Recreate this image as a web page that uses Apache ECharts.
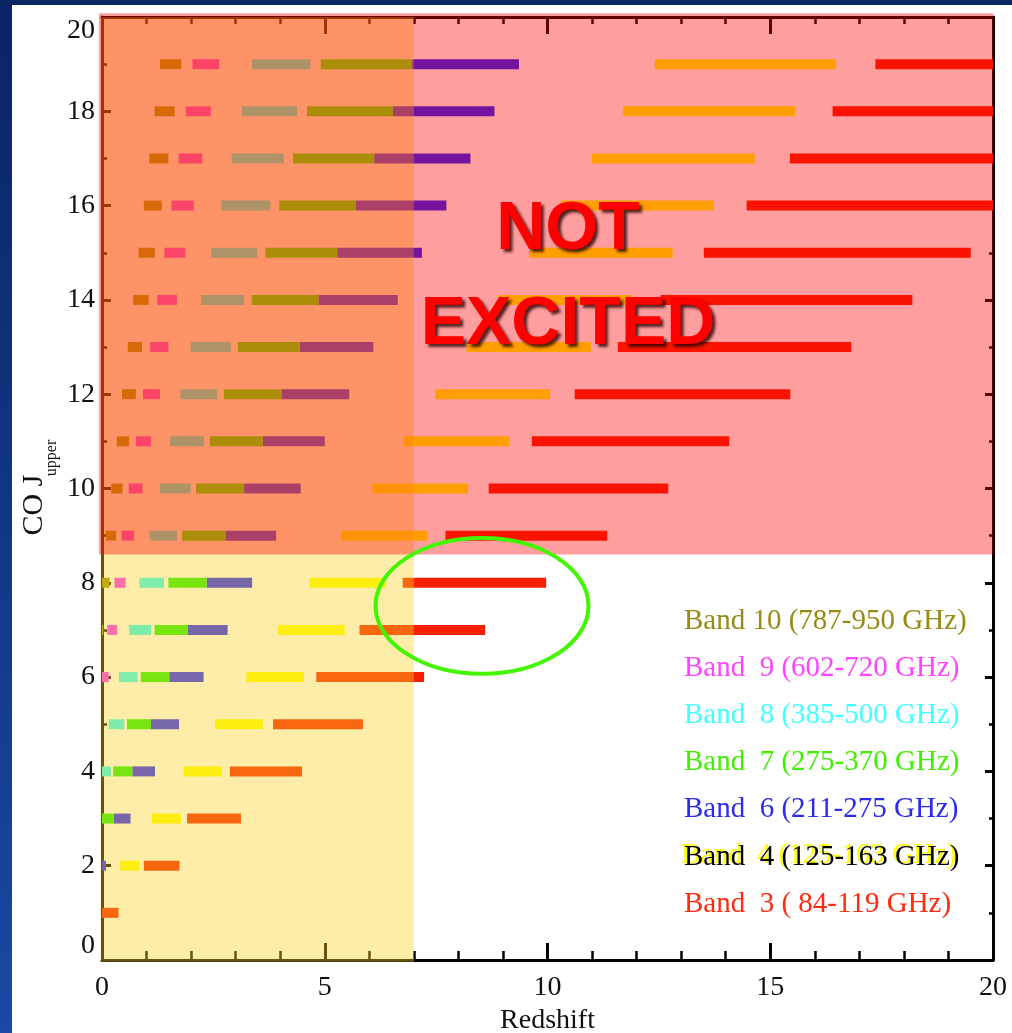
<!DOCTYPE html>
<html>
<head>
<meta charset="utf-8">
<script src="https://cdn.jsdelivr.net/npm/echarts@6/dist/echarts.min.js"></script>
<style>
  html, body { margin: 0; padding: 0; background: #fff; }
  #chart { width: 1012px; height: 1033px; }
</style>
</head>
<body>
<div id="chart"></div>
<script>
// Redshift coverage of the CO rotational ladder for each ALMA band.
// Each entry: [J_upper, z_min, z_max]
const band3  = [[1,0,0.37],[2,0.94,1.74],[3,1.91,3.12],[4,2.87,4.49],[5,3.84,5.86],[6,4.81,7.23],[7,5.78,8.60],[8,6.75,9.97],[9,7.71,11.34],[10,8.68,12.71],[11,9.65,14.08],[12,10.61,15.45],[13,11.58,16.82],[14,12.54,18.19],[15,13.51,19.50],[16,14.47,20],[17,15.44,20],[18,16.40,20],[19,17.36,20]];
const band4  = [[2,0.41,0.84],[3,1.12,1.77],[4,1.83,2.69],[5,2.54,3.61],[6,3.24,4.53],[7,3.95,5.45],[8,4.66,6.37],[9,5.36,7.30],[10,6.07,8.22],[11,6.77,9.14],[12,7.48,10.06],[13,8.18,10.98],[14,8.89,11.89],[15,9.59,12.81],[16,10.30,13.73],[17,11.00,14.65],[18,11.70,15.56],[19,12.41,16.48]];
const band6  = [[2,0,0.09],[3,0.26,0.64],[4,0.68,1.19],[5,1.10,1.73],[6,1.51,2.28],[7,1.93,2.82],[8,2.35,3.37],[9,2.77,3.91],[10,3.19,4.46],[11,3.61,5.00],[12,4.03,5.55],[13,4.44,6.09],[14,4.86,6.64],[15,5.28,7.18],[16,5.70,7.73],[17,6.11,8.27],[18,6.53,8.81],[19,6.95,9.36]];
const band7  = [[3,0,0.26],[4,0.25,0.68],[5,0.56,1.10],[6,0.87,1.51],[7,1.18,1.93],[8,1.49,2.35],[9,1.80,2.77],[10,2.11,3.19],[11,2.42,3.61],[12,2.74,4.03],[13,3.05,4.44],[14,3.36,4.86],[15,3.67,5.28],[16,3.98,5.70],[17,4.29,6.11],[18,4.60,6.53],[19,4.91,6.95]];
const band8  = [[4,0,0.20],[5,0.15,0.50],[6,0.38,0.80],[7,0.61,1.10],[8,0.84,1.39],[9,1.07,1.69],[10,1.30,1.99],[11,1.53,2.29],[12,1.76,2.59],[13,1.99,2.89],[14,2.22,3.19],[15,2.45,3.48],[16,2.68,3.78],[17,2.91,4.08],[18,3.14,4.38],[19,3.37,4.68]];
const band9  = [[6,0,0.15],[7,0.12,0.34],[8,0.28,0.53],[9,0.44,0.72],[10,0.60,0.91],[11,0.76,1.10],[12,0.92,1.30],[13,1.08,1.49],[14,1.24,1.68],[15,1.40,1.87],[16,1.56,2.06],[17,1.72,2.25],[18,1.88,2.44],[19,2.03,2.63]];
const band10 = [[7,0,0.03],[8,0,0.17],[9,0.09,0.32],[10,0.21,0.46],[11,0.33,0.61],[12,0.45,0.76],[13,0.58,0.90],[14,0.70,1.05],[15,0.82,1.19],[16,0.94,1.34],[17,1.06,1.49],[18,1.18,1.63],[19,1.30,1.78]];

// Key labels, top to bottom
const keyLabels = [
  'Band 10 (787-950 GHz)',
  'Band  9 (602-720 GHz)',
  'Band  8 (385-500 GHz)',
  'Band  7 (275-370 GHz)',
  'Band  6 (211-275 GHz)',
  'Band  4 (125-163 GHz)',
  'Band  3 ( 84-119 GHz)'
];

// Shaded zones: [z_min, z_max, J_min, J_max]
const lowZZone = [[-0.03, 7, -0.035, 20]];
const notExcitedZone = [[-0.07, 20, 8.6, 20.08]];
// Highlight ring: [z_center, J_center, z_radius, J_radius]
const ringMark = [[8.53, 7.51, 2.39, 1.44]];

const BAR_H = 10;
const serif = '"Liberation Serif", "Times New Roman", serif';

function barSeries(name, data, color) {
  return {
    type: 'custom', name: name, z: 3, clip: true, silent: true,
    encode: { x: [1, 2], y: 0 },
    data: data,
    renderItem: function (params, api) {
      const a = api.coord([api.value(1), api.value(0)]);
      const b = api.coord([api.value(2), api.value(0)]);
      return {
        type: 'rect',
        shape: { x: a[0], y: a[1] - BAR_H / 2, width: b[0] - a[0], height: BAR_H },
        style: { fill: color }
      };
    }
  };
}

function zoneSeries(data, fill, z) {
  return {
    type: 'custom', z: z, clip: false, silent: true,
    data: data,
    renderItem: function (params, api) {
      const a = api.coord([api.value(0), api.value(3)]);
      const b = api.coord([api.value(1), api.value(2)]);
      return {
        type: 'rect',
        shape: { x: a[0], y: a[1], width: b[0] - a[0], height: b[1] - a[1] },
        style: { fill: fill }
      };
    }
  };
}

const axisBlack = { color: '#000', width: 3 };

const keyColors = ['#978A15', '#FF44FF', '#44FFFF', '#44EE00', '#2B2BF0', '#000000', '#FF2A10'];
const keyTop = 621, keyStep = 47.2, keyLeft = 684;
const keyFont = '29px ' + serif;

const graphics = [
  // slide frame
  { type: 'rect', z: 100, silent: true, shape: { x: 0, y: 0, width: 12, height: 1033 },
    style: { fill: new echarts.graphic.LinearGradient(0, 0, 0, 1, [
      { offset: 0, color: '#0A2464' }, { offset: 1, color: '#1A48A2' }]) } },
  { type: 'rect', z: 100, silent: true, shape: { x: 0, y: 0, width: 1012, height: 5 },
    style: { fill: '#0A2464' } },
  // y axis title
  { type: 'text', z: 100, x: 34, y: 505, rotation: Math.PI / 2,
    style: { text: 'CO J', font: '30px ' + serif, fill: '#111', align: 'center', verticalAlign: 'middle' } },
  { type: 'text', z: 100, x: 52, y: 458, rotation: Math.PI / 2,
    style: { text: 'upper', font: '16px ' + serif, fill: '#111', align: 'center', verticalAlign: 'middle' } },
  // big annotation
  { type: 'text', z: 100, x: 568, y: 230,
    style: { text: 'NOT', font: 'bold 68px "Liberation Sans", Arial, sans-serif', fill: '#FF0000',
      align: 'center', verticalAlign: 'middle',
      textShadowColor: 'rgba(40,0,0,0.8)', textShadowBlur: 3, textShadowOffsetX: 3, textShadowOffsetY: 3 } },
  { type: 'text', z: 100, x: 568, y: 325,
    style: { text: 'EXCITED', font: 'bold 68px "Liberation Sans", Arial, sans-serif', fill: '#FF0000',
      align: 'center', verticalAlign: 'middle',
      textShadowColor: 'rgba(40,0,0,0.8)', textShadowBlur: 3, textShadowOffsetX: 3, textShadowOffsetY: 3 } }
];

keyLabels.forEach(function (label, i) {
  const y = keyTop + i * keyStep;
  if (i === 5) {
    graphics.push({ type: 'text', z: 100, x: keyLeft - 3, y: y - 2,
      style: { text: label, font: keyFont, fill: '#FFFF00', align: 'left', verticalAlign: 'middle' } });
  }
  graphics.push({ type: 'text', z: 101, x: keyLeft, y: y,
    style: { text: label, font: keyFont, fill: keyColors[i], align: 'left', verticalAlign: 'middle' } });
});

const chart = echarts.init(document.getElementById('chart'), null, { renderer: 'canvas' });
chart.setOption({
  backgroundColor: '#ffffff',
  animation: false,
  grid: { left: 102, right: 19, top: 17, bottom: 73, containLabel: false, outerBoundsMode: 'none' },
  xAxis: [
    {
      type: 'value', min: 0, max: 20, interval: 5, position: 'bottom',
      axisLine: { show: true, onZero: false, lineStyle: axisBlack },
      axisTick: { show: true, inside: true, length: 17, lineStyle: axisBlack },
      minorTick: { show: true, splitNumber: 5, length: 9, lineStyle: { color: '#000', width: 2.5 } },
      splitLine: { show: false },
      axisLabel: { fontFamily: serif, fontSize: 28, color: '#111', margin: 14 },
      name: 'Redshift', nameLocation: 'middle', nameGap: 41,
      nameTextStyle: { fontFamily: serif, fontSize: 28, color: '#111' }
    },
    {
      type: 'value', min: 0, max: 20, interval: 5, position: 'top',
      axisLine: { show: true, onZero: false, lineStyle: axisBlack },
      axisTick: { show: true, inside: true, length: 17, lineStyle: axisBlack },
      minorTick: { show: true, splitNumber: 5, length: 7, lineStyle: { color: '#000', width: 2.5 } },
      splitLine: { show: false },
      axisLabel: { show: false }
    }
  ],
  yAxis: [
    {
      type: 'value', min: 0, max: 20, interval: 2, position: 'left',
      axisLine: { show: true, onZero: false, lineStyle: axisBlack },
      axisTick: { show: true, inside: true, length: 9, lineStyle: axisBlack },
      minorTick: { show: true, splitNumber: 2, length: 5, lineStyle: { color: '#000', width: 2.5 } },
      splitLine: { show: false },
      axisLabel: { fontFamily: serif, fontSize: 28, color: '#111', margin: 7,
        verticalAlignMinLabel: 'bottom', verticalAlignMaxLabel: 'top' }
    },
    {
      type: 'value', min: 0, max: 20, interval: 2, position: 'right',
      axisLine: { show: true, onZero: false, lineStyle: axisBlack },
      axisTick: { show: true, inside: true, length: 8, lineStyle: axisBlack },
      minorTick: { show: true, splitNumber: 2, length: 4, lineStyle: { color: '#000', width: 2.5 } },
      splitLine: { show: false },
      axisLabel: { show: false }
    }
  ],
  graphic: { elements: graphics },
  series: [
    barSeries('Band 3', band3, '#F72000'),
    barSeries('Band 4', band4, '#FFFF00'),
    barSeries('Band 6', band6, '#2020FF'),
    barSeries('Band 7', band7, '#22F000'),
    barSeries('Band 8', band8, '#2DFFFF'),
    barSeries('Band 9', band9, '#F72EFF'),
    barSeries('Band 10', band10, '#999000'),
    zoneSeries(lowZZone, 'rgba(250,210,40,0.40)', 5),
    zoneSeries(notExcitedZone, 'rgba(255,0,0,0.38)', 6),
    {
      type: 'custom', z: 8, clip: false, silent: true,
      data: ringMark,
      renderItem: function (params, api) {
        const c = api.coord([api.value(0), api.value(1)]);
        const e = api.coord([api.value(0) + api.value(2), api.value(1) + api.value(3)]);
        return {
          type: 'ellipse',
          shape: { cx: c[0], cy: c[1], rx: Math.abs(e[0] - c[0]), ry: Math.abs(e[1] - c[1]) },
          style: { fill: 'none', stroke: '#44F500', lineWidth: 4 }
        };
      }
    }
  ]
});
</script>
</body>
</html>
